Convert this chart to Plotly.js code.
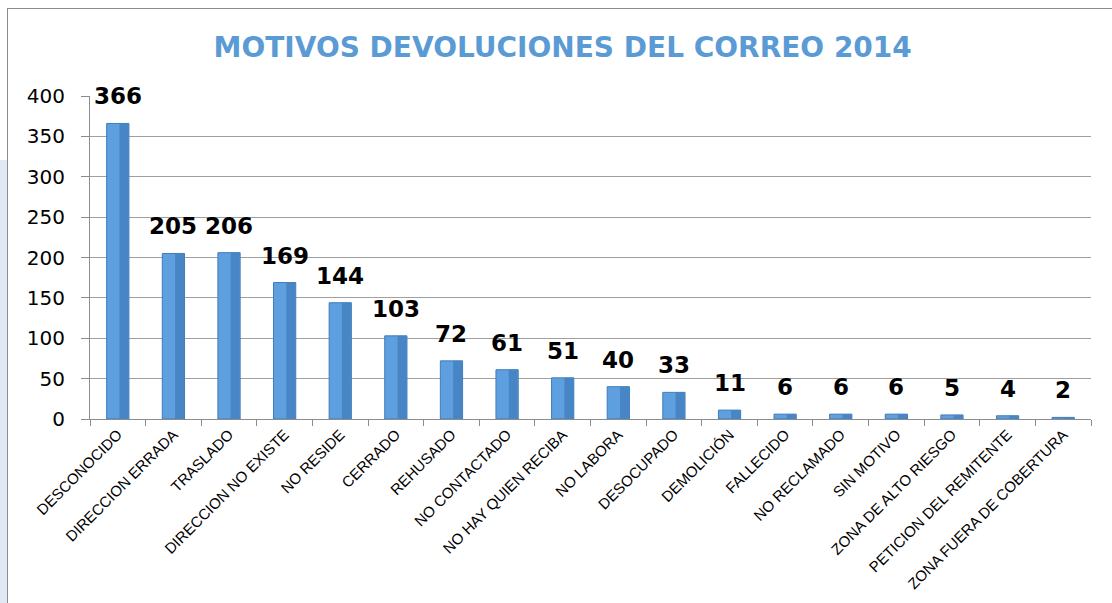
<!DOCTYPE html>
<html>
<head>
<meta charset="utf-8">
<script src="https://cdn.plot.ly/plotly-3.0.1.min.js"></script>
<style>
  html, body { margin: 0; padding: 0; background: #ffffff; overflow: hidden; }
  #frame { position: absolute; left: 7px; top: 8px; width: 1200px; height: 700px; border: 1px solid #8c8c8c; background: #fff; }
  #strip { position: absolute; left: 0; top: 160px; width: 7px; height: 443px; background: #dfe8f3; }
  #chart { position: absolute; left: 0; top: 0; width: 1112px; height: 603px; }
</style>
</head>
<body>
<div id="strip"></div>
<div id="frame"></div>
<div id="chart"></div>
<script>
const categories = [
  "DESCONOCIDO", "DIRECCION ERRADA", "TRASLADO", "DIRECCION NO EXISTE", "NO RESIDE",
  "CERRADO", "REHUSADO", "NO CONTACTADO", "NO HAY QUIEN RECIBA", "NO LABORA",
  "DESOCUPADO", "DEMOLICIÓN", "FALLECIDO", "NO RECLAMADO", "SIN MOTIVO",
  "ZONA DE ALTO RIESGO", "PETICION DEL REMITENTE", "ZONA FUERA DE COBERTURA"
];
const values = [366, 205, 206, 169, 144, 103, 72, 61, 51, 40, 33, 11, 6, 6, 6, 5, 4, 2];
const yTicks = [0, 50, 100, 150, 200, 250, 300, 350, 400];
const chartTitle = "MOTIVOS DEVOLUCIONES DEL CORREO 2014";

const bars = {
  type: "bar",
  x: categories,
  y: values,
  width: 0.4,
  marker: { color: "#5e9fe0", line: { color: "#3f7cbc", width: 1 } },
  hoverinfo: "x+y"
};
const shade = {
  type: "bar",
  x: categories,
  y: values,
  width: 0.16,
  offset: 0.03,
  marker: { color: "#4885c5", line: { width: 0 } },
  hoverinfo: "skip"
};

const annotations = categories.map((c, i) => ({
  x: c, y: values[i], xref: "x", yref: "y",
  text: String(values[i]), showarrow: false,
  yanchor: "middle", yshift: 27,
  font: { family: "DejaVu Sans", size: 23, color: "#000000", weight: "bold" }
}));

const layout = {
  width: 1112, height: 603,
  paper_bgcolor: "rgba(0,0,0,0)",
  plot_bgcolor: "rgba(0,0,0,0)",
  margin: { l: 90, r: 21, t: 96, b: 184 },
  showlegend: false,
  barmode: "overlay",
  title: {
    text: chartTitle,
    x: 0.506, xanchor: "center",
    y: 0.922, yanchor: "middle",
    font: { family: "DejaVu Sans", size: 28, color: "#5b9bd5", weight: "bold" }
  },
  xaxis: {
    type: "category",
    tickangle: -45,
    tickson: "boundaries",
    ticks: "outside", ticklen: 6, tickcolor: "#8c8c8c",
    showline: true, linecolor: "#8c8c8c", linewidth: 1,
    showgrid: false,
    tickfont: { family: "Liberation Sans", size: 15, color: "#000000" },
    automargin: false
  },
  yaxis: {
    range: [0, 400],
    tickvals: yTicks,
    ticks: "outside", ticklen: 8, tickcolor: "#8c8c8c",
    showline: true, linecolor: "#8c8c8c", linewidth: 1,
    showgrid: true, gridcolor: "#a0a0a0", gridwidth: 1,
    zeroline: false,
    ticklabelstandoff: 12,
    tickfont: { family: "DejaVu Sans", size: 20, color: "#000000" },
    automargin: false
  },
  annotations: annotations
};

Plotly.newPlot("chart", [bars, shade], layout, { staticPlot: true, displayModeBar: false });
</script>
</body>
</html>
